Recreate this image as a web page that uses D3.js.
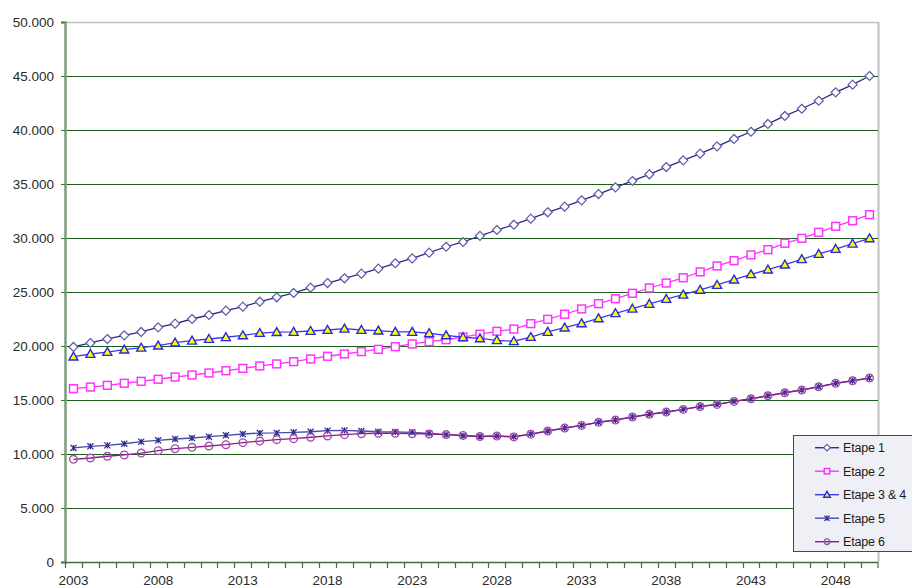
<!DOCTYPE html>
<html>
<head>
<meta charset="utf-8">
<script src="https://cdn.jsdelivr.net/npm/d3@7"></script>
<style>
  html, body { margin: 0; padding: 0; background: #ffffff; }
  svg { display: block; }
  text { font-family: "Liberation Sans", Arial, sans-serif; }
</style>
</head>
<body>
<svg id="chart" width="912" height="587"></svg>
<script>
const years = d3.range(2003, 2051);
const yTicks = [0, 5000, 10000, 15000, 20000, 25000, 30000, 35000, 40000, 45000, 50000];
const xLabelYears = [2003, 2008, 2013, 2018, 2023, 2028, 2033, 2038, 2043, 2048];

const etape1 = [19.91, 20.28, 20.65, 20.99, 21.30, 21.73, 22.07, 22.50, 22.87, 23.27,
  23.64, 24.10, 24.51, 24.91, 25.40, 25.83, 26.27, 26.70, 27.16, 27.66,
  28.12, 28.64, 29.19, 29.63, 30.20, 30.74, 31.23, 31.79, 32.38, 32.90,
  33.49, 34.07, 34.69, 35.28, 35.90, 36.57, 37.19, 37.81, 38.49, 39.17,
  39.84, 40.56, 41.30, 41.97, 42.71, 43.49, 44.20, 45.00];
const etape2 = [16.05, 16.20, 16.36, 16.55, 16.73, 16.92, 17.13, 17.31, 17.50, 17.71,
  17.93, 18.15, 18.34, 18.55, 18.80, 19.05, 19.26, 19.48, 19.69, 19.94,
  20.19, 20.40, 20.58, 20.83, 21.09, 21.36, 21.57, 22.07, 22.47, 22.94,
  23.43, 23.92, 24.38, 24.88, 25.37, 25.83, 26.32, 26.86, 27.41, 27.90,
  28.43, 28.92, 29.51, 29.97, 30.53, 31.08, 31.60, 32.16];
const etape34 = [19.01, 19.26, 19.44, 19.66, 19.84, 20.03, 20.31, 20.49, 20.65, 20.81,
  20.99, 21.20, 21.28, 21.30, 21.39, 21.48, 21.60, 21.48, 21.42, 21.30,
  21.30, 21.18, 20.99, 20.81, 20.70, 20.53, 20.44, 20.83, 21.30, 21.70,
  22.10, 22.56, 23.03, 23.45, 23.89, 24.35, 24.75, 25.20, 25.65, 26.14,
  26.64, 27.07, 27.53, 28.03, 28.52, 28.98, 29.47, 29.97];
const etape5 = [10.56, 10.71, 10.80, 10.95, 11.14, 11.27, 11.39, 11.48, 11.60, 11.73,
  11.85, 11.94, 11.95, 12.01, 12.06, 12.16, 12.19, 12.13, 12.06, 12.04,
  12.01, 11.91, 11.79, 11.69, 11.62, 11.67, 11.60, 11.85, 12.13, 12.41,
  12.66, 12.94, 13.15, 13.43, 13.68, 13.89, 14.14, 14.40, 14.60, 14.88,
  15.12, 15.40, 15.68, 15.93, 16.23, 16.55, 16.79, 17.04];
const etape6 = [9.51, 9.63, 9.79, 9.91, 10.09, 10.31, 10.49, 10.62, 10.74, 10.86,
  11.05, 11.20, 11.33, 11.42, 11.55, 11.67, 11.79, 11.88, 11.92, 11.92,
  11.88, 11.85, 11.80, 11.72, 11.62, 11.66, 11.58, 11.84, 12.12, 12.40,
  12.65, 12.93, 13.14, 13.42, 13.67, 13.88, 14.13, 14.39, 14.59, 14.87,
  15.11, 15.39, 15.67, 15.92, 16.22, 16.54, 16.78, 17.03];

const seriesNames = ["Etape 1", "Etape 2", "Etape 3 & 4", "Etape 5", "Etape 6"];
const seriesValues = [etape1, etape2, etape34, etape5, etape6];
const seriesStyle = [
  { line: "#2a2a88", marker: "diamond", fill: "#ffffff", stroke: "#5a5aa6" },
  { line: "#ff33ff", marker: "square", fill: "#ffffff", stroke: "#ff33ff" },
  { line: "#3a3af0", marker: "triangle", fill: "#ffff00", stroke: "#2828e0" },
  { line: "#4a4aa8", marker: "star", fill: "none", stroke: "#2a2a90" },
  { line: "#8a1a8a", marker: "circle", fill: "none", stroke: "#a050a8" }
];

const svg = d3.select("#chart");
const pL = 65, pR = 878, pT = 22, pB = 562;

const x = d3.scaleBand().domain(years).range([pL, pR]).padding(0);
const y = d3.scaleLinear().domain([0, 50000]).range([pB, pT]);
const cx = d => x(d) + x.bandwidth() / 2;

const locale = d3.formatLocale({ decimal: ",", thousands: ".", grouping: [3], currency: ["", ""] });
const fmt = locale.format(",d");

// plot area border (top / right gray)
svg.append("line").attr("x1", pL).attr("x2", pR + 0.5).attr("y1", pT + 0.5).attr("y2", pT + 0.5)
  .attr("stroke", "#c0c0c0").attr("stroke-width", 1.5);
svg.append("line").attr("x1", pR + 0.5).attr("x2", pR + 0.5).attr("y1", pT).attr("y2", pB)
  .attr("stroke", "#c0c0c0").attr("stroke-width", 2);

// gridlines
svg.append("g").selectAll("line")
  .data(yTicks.filter(v => v > 0 && v < 50000))
  .join("line")
  .attr("x1", pL).attr("x2", pR)
  .attr("y1", d => Math.round(y(d)) + 0.5).attr("y2", d => Math.round(y(d)) + 0.5)
  .attr("stroke", "#1d5e1d").attr("stroke-width", 1);

// y axis
const yAxis = d3.axisLeft(y).tickValues(yTicks).tickFormat(fmt).tickSize(4).tickPadding(7);
const gy = svg.append("g").attr("transform", `translate(${pL},0)`).call(yAxis);
gy.select(".domain").attr("stroke", "#7c9c7c").attr("stroke-width", 2.5);
gy.selectAll(".tick line").attr("stroke", "#3f6f3f");
gy.selectAll(".tick text").attr("font-size", 13.5).attr("fill", "#2a2a2a")
  .attr("font-family", "'Liberation Sans', Arial, sans-serif");

// x axis
const gx = svg.append("g").attr("transform", `translate(0,${pB})`);
gx.append("line").attr("x1", pL).attr("x2", pR).attr("y1", 0.5).attr("y2", 0.5)
  .attr("stroke", "#3f6f3f").attr("stroke-width", 1.5);
gx.selectAll("line.tk").data(years.concat([null])).join("line").attr("class", "tk")
  .attr("x1", d => d === null ? pR : Math.round(x(d)) + 0.5)
  .attr("x2", d => d === null ? pR : Math.round(x(d)) + 0.5)
  .attr("y1", 0).attr("y2", 6)
  .attr("stroke", "#3f6f3f").attr("stroke-width", 1.2);
gx.selectAll("text").data(xLabelYears).join("text")
  .attr("x", d => cx(d)).attr("y", 23.2)
  .attr("text-anchor", "middle").attr("font-size", 13.5).attr("fill", "#2a2a2a")
  .text(d => d);

// marker drawing
function drawMarker(g, type, fill, stroke, size) {
  const s = size;
  if (type === "diamond") {
    g.append("path").attr("d", `M0,${-s}L${s},0L0,${s}L${-s},0Z`)
      .attr("fill", fill).attr("stroke", stroke).attr("stroke-width", 1.2);
  } else if (type === "square") {
    g.append("rect").attr("x", -s + 0.6).attr("y", -s + 0.6).attr("width", 2 * s - 1.2).attr("height", 2 * s - 1.2)
      .attr("fill", fill).attr("stroke", stroke).attr("stroke-width", 1.5);
  } else if (type === "triangle") {
    g.append("path").attr("d", `M0,${-s}L${s},${s * 0.75}L${-s},${s * 0.75}Z`)
      .attr("fill", fill).attr("stroke", stroke).attr("stroke-width", 1.4);
  } else if (type === "star") {
    const a = s * 0.8;
    g.append("path").attr("d", `M${-a},${-a}L${a},${a}M${-a},${a}L${a},${-a}M0,${-a}L0,${a}`)
      .attr("fill", "none").attr("stroke", stroke).attr("stroke-width", 1.2);
  } else if (type === "circle") {
    g.append("circle").attr("r", s - 0.5)
      .attr("fill", fill).attr("stroke", stroke).attr("stroke-width", 1.4);
  }
}
const markerSize = [4.5, 4.5, 4.5, 3.8, 4.3];

const line = d3.line().x((d, i) => cx(years[i])).y(d => y(d * 1000));

seriesValues.forEach((vals, si) => {
  const st = seriesStyle[si];
  const g = svg.append("g");
  g.append("path").datum(vals).attr("d", line)
    .attr("fill", "none").attr("stroke", st.line).attr("stroke-width", 1.3);
  vals.forEach((v, i) => {
    const mg = g.append("g").attr("transform", `translate(${cx(years[i])},${y(v * 1000)})`);
    drawMarker(mg, st.marker, st.fill, st.stroke, markerSize[si]);
  });
});

// legend
const lg = svg.append("g").attr("transform", "translate(793,435)");
lg.append("rect").attr("x", 0.5).attr("y", 0.5).attr("width", 130).attr("height", 116)
  .attr("fill", "#eef0f6").attr("stroke", "#2d5a2d").attr("stroke-width", 1);
seriesNames.forEach((name, i) => {
  const st = seriesStyle[i];
  const yy = 12.7 + i * 23.5;
  const eg = lg.append("g").attr("transform", `translate(0,${yy})`);
  eg.append("line").attr("x1", 22).attr("x2", 46).attr("y1", 0).attr("y2", 0)
    .attr("stroke", st.line).attr("stroke-width", 1.4);
  const mg = eg.append("g").attr("transform", "translate(34,0)");
  drawMarker(mg, st.marker, st.fill, st.stroke, 3.3);
  eg.append("text").attr("x", 50).attr("y", 4.5).attr("font-size", 12.5).attr("fill", "#1a1a1a")
    .attr("letter-spacing", -0.2).text(name);
});
</script>
</body>
</html>
